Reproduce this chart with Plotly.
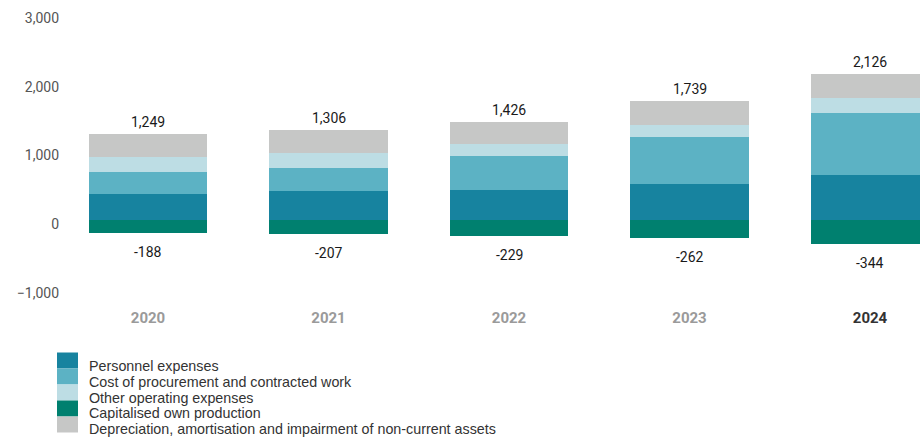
import plotly.graph_objects as go

# Operating expenses by year (amounts in millions)
years = ["2020", "2021", "2022", "2023", "2024"]
personnel = [385, 422, 447, 523, 651]
procurement = [317, 337, 484, 692, 903]
other_opex = [225, 224, 175, 173, 227]
depreciation = [322, 323, 320, 351, 345]
capitalised = [-188, -207, -229, -262, -344]

series_names = [
    "Personnel expenses",
    "Cost of procurement and contracted work",
    "Other operating expenses",
    "Capitalised own production",
    "Depreciation, amortisation and impairment of non-current assets",
]
colors = {
    "Personnel expenses": "#17839F",
    "Cost of procurement and contracted work": "#5CB2C4",
    "Other operating expenses": "#BDDDE4",
    "Capitalised own production": "#00806F",
    "Depreciation, amortisation and impairment of non-current assets": "#C6C7C6",
}

FONT = "Roboto"
LEGEND_FONT = "Liberation Sans"
W, H = 920, 438
ML, MR, MT, MB = 62, 0, 14, 149
PW, PH = W - ML - MR, H - MT - MB

x = list(range(len(years)))
bar_w = 0.654

fig = go.Figure()
stack = [
    ("Personnel expenses", personnel),
    ("Cost of procurement and contracted work", procurement),
    ("Other operating expenses", other_opex),
    ("Depreciation, amortisation and impairment of non-current assets", depreciation),
    ("Capitalised own production", capitalised),
]
for name, vals in stack:
    fig.add_trace(go.Bar(
        x=x, y=vals, name=name, width=bar_w,
        marker=dict(color=colors[name], line=dict(width=0)),
        showlegend=False, hoverinfo="x+y+name",
    ))

# totals above bars and capitalised amounts below
totals = [a + b + c + d for a, b, c, d in zip(personnel, procurement, other_opex, depreciation)]
for i, (t, n) in enumerate(zip(totals, capitalised)):
    fig.add_annotation(x=i, y=t, text=f"{t:,}", showarrow=False, yanchor="middle",
                       yshift=12, font=dict(family=FONT, size=14, color="#1a1a1a"))
    fig.add_annotation(x=i, y=n, text=f"{n:,}", showarrow=False,
                       yanchor="middle", yshift=-19,
                       font=dict(family=FONT, size=14, color="#1a1a1a"))

# custom legend: contiguous swatches with labels
def px_x(p):
    return (p - ML) / PW

def px_y(p):
    return (H - MB - p) / PH

sw_left, sw_right = 57, 78
row_top, row_h = 352.5, 16.0
text_top, text_pitch = 365.7, 15.9
for k, name in enumerate(series_names):
    y0 = row_top + k * row_h
    fig.add_shape(type="rect", xref="paper", yref="paper",
                  x0=px_x(sw_left), x1=px_x(sw_right),
                  y0=px_y(y0 + row_h), y1=px_y(y0),
                  fillcolor=colors[name], line=dict(width=0), layer="above")
    fig.add_annotation(xref="paper", yref="paper", x=px_x(88),
                       y=px_y(text_top + k * text_pitch),
                       text=name, showarrow=False, xanchor="left", yanchor="middle",
                       borderpad=0,
                       font=dict(family=LEGEND_FONT, size=14.3, color="#333333"))

ticktext = [f"<b>{y}</b>" for y in years[:-1]] + [f"<b><span style='color:#333333'>{years[-1]}</span></b>"]

spacing = 180.5
r0 = -(148 - ML) / spacing
r1 = r0 + PW / spacing

fig.update_layout(
    width=W, height=H,
    margin=dict(l=ML, r=MR, t=MT, b=MB),
    barmode="relative",
    bargap=0,
    plot_bgcolor="white", paper_bgcolor="white",
    font=dict(family=FONT),
    xaxis=dict(range=[r0, r1], tickvals=x, ticktext=ticktext, showgrid=False,
               zeroline=False, showline=False, ticks="",
               tickfont=dict(family=FONT, size=15, color="#9A9A9A"),
               ticklabelstandoff=18),
    yaxis=dict(range=[-1000, 3000], tickvals=[-1000, 0, 1000, 2000, 3000],
               tickformat=",", showgrid=False, zeroline=False, showline=False,
               ticks="", tickfont=dict(family=FONT, size=14, color="#555555"),
               ticklabelshift=4, ticklabelstandoff=2),
)

fig.write_html("out.html")
